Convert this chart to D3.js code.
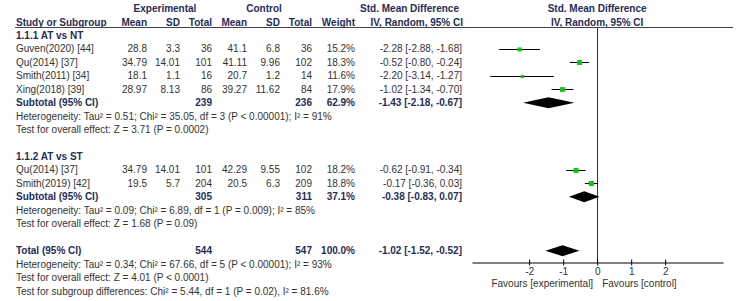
<!DOCTYPE html>
<html>
<head>
<meta charset="utf-8">
<script src="https://cdn.jsdelivr.net/npm/d3@7"></script>
<style>
  body { margin: 0; background: #fff; }
  svg text { font-family: Arial, "Liberation Sans", sans-serif; font-size: 10px; fill: #333; }
  svg text.b { font-weight: bold; fill: #1f2d58; }
</style>
</head>
<body>
<svg class="chart"></svg>
<script>
// study rows
var studies = ["Guven(2020) [44]", "Qu(2014) [37]", "Smith(2011) [34]", "Xing(2018) [39]", "Qu(2014) [37]", "Smith(2019) [42]"];
var studyGroup = [0, 0, 0, 0, 1, 1];
var expMean = ["28.8", "34.79", "18.1", "28.97", "34.79", "19.5"];
var expSD = ["3.3", "14.01", "1.1", "8.13", "14.01", "5.7"];
var expN = [36, 101, 16, 86, 101, 204];
var ctlMean = ["41.1", "41.11", "20.7", "39.27", "42.29", "20.5"];
var ctlSD = ["6.8", "9.96", "1.2", "11.62", "9.55", "6.3"];
var ctlN = [36, 102, 14, 84, 102, 209];
var weights = [15.2, 18.3, 11.6, 17.9, 18.2, 18.8];
var smd = [-2.28, -0.52, -2.20, -1.02, -0.62, -0.17];
var smdLo = [-2.88, -0.80, -3.14, -1.34, -0.91, -0.36];
var smdHi = [-1.68, -0.24, -1.27, -0.70, -0.34, 0.03];

// subgroups
var groupNames = ["1.1.1 AT vs NT", "1.1.2 AT vs ST"];
var groupExpN = [239, 305];
var groupCtlN = [236, 311];
var groupWeight = [62.9, 37.1];
var groupSmd = [-1.43, -0.38];
var groupLo = [-2.18, -0.83];
var groupHi = [-0.67, 0.07];
var groupHet = [
  "Heterogeneity: Tau\u00b2 = 0.51; Chi\u00b2 = 35.05, df = 3 (P < 0.00001); I\u00b2 = 91%",
  "Heterogeneity: Tau\u00b2 = 0.09; Chi\u00b2 = 6.89, df = 1 (P = 0.009); I\u00b2 = 85%"
];
var groupTest = [
  "Test for overall effect: Z = 3.71 (P = 0.0002)",
  "Test for overall effect: Z = 1.68 (P = 0.09)"
];

// overall
var totalExpN = 544, totalCtlN = 547, totalWeight = 100.0;
var totalSmd = -1.02, totalLo = -1.52, totalHi = -0.52;
var totalNotes = [
  "Heterogeneity: Tau\u00b2 = 0.34; Chi\u00b2 = 67.66, df = 5 (P < 0.00001); I\u00b2 = 93%",
  "Test for overall effect: Z = 4.01 (P < 0.0001)",
  "Test for subgroup differences: Chi\u00b2 = 5.44, df = 1 (P = 0.02), I\u00b2 = 81.6%"
];

var tickVals = [-2, -1, 0, 1, 2];
var favours = ["Favours [experimental]", "Favours [control]"];

var width = 738, height = 301;
var svg = d3.select(".chart").attr("width", width).attr("height", height);

var x = d3.scaleLinear().domain([-3.68, 3.7]).range([472, 723]);
var y = d3.scaleLinear().domain([0, 19]).range([35.5, 291]);

function f2(v) { return v.toFixed(2); }
function ci(m, lo, hi) { return f2(m) + " [" + f2(lo) + ", " + f2(hi) + "]"; }

// columns: right edges
var col = {name: 16, em: 147, esd: 180, en: 212, cm: 247, csd: 280, cn: 312, w: 355, ci: 462};

function txt(px, py, s, anchor, bold) {
  svg.append("text")
    .attr("class", bold ? "b" : null)
    .attr("x", px).attr("y", py).attr("dy", "0.35em")
    .attr("text-anchor", anchor || "start")
    .text(s);
}

// header
txt(165, 8, "Experimental", "middle", true);
txt(264, 8, "Control", "middle", true);
txt(459, 8, "Std. Mean Difference", "end", true);
txt(x(0), 8, "Std. Mean Difference", "middle", true);
txt(col.name, 22, "Study or Subgroup", "start", true);
[["Mean", col.em], ["SD", col.esd], ["Total", col.en], ["Mean", col.cm], ["SD", col.csd], ["Total", col.cn], ["Weight", col.w]]
  .forEach(function(h) { txt(h[1], 22, h[0], "end", true); });
txt(463, 22, "IV, Random, 95% CI", "end", true);
txt(x(0), 22, "IV, Random, 95% CI", "middle", true);

svg.append("line").attr("x1", 15).attr("x2", 733).attr("y1", 27.5).attr("y2", 27.5)
  .attr("stroke", "#444").attr("stroke-width", 1);

// zero line
svg.append("line").attr("x1", Math.round(x(0)) + 0.5).attr("x2", Math.round(x(0)) + 0.5)
  .attr("y1", 27.5).attr("y2", 262.5).attr("stroke", "#333").attr("stroke-width", 1);

function diamond(m, lo, hi, py) {
  var h = 5.5;
  svg.append("path")
    .attr("d", "M" + x(lo) + "," + py + "L" + x(m) + "," + (py - h) + "L" + x(hi) + "," + py + "L" + x(m) + "," + (py + h) + "Z")
    .attr("fill", "#000");
}

var row = 0;
groupNames.forEach(function(g, gi) {
  txt(col.name, y(row), g, "start", true);
  row++;
  studies.forEach(function(s, i) {
    if (studyGroup[i] !== gi) return;
    var py = y(row);
    txt(col.name, py, s);
    txt(col.em, py, expMean[i], "end");
    txt(col.esd, py, expSD[i], "end");
    txt(col.en, py, expN[i], "end");
    txt(col.cm, py, ctlMean[i], "end");
    txt(col.csd, py, ctlSD[i], "end");
    txt(col.cn, py, ctlN[i], "end");
    txt(col.w, py, weights[i].toFixed(1) + "%", "end");
    txt(col.ci, py, ci(smd[i], smdLo[i], smdHi[i]), "end");
    var ly = Math.round(py) + 0.5;
    svg.append("line").attr("x1", x(smdLo[i])).attr("x2", x(smdHi[i]))
      .attr("y1", ly).attr("y2", ly).attr("stroke", "#000").attr("stroke-width", 1);
    var sz = weights[i] * 0.27;
    svg.append("rect").attr("x", x(smd[i]) - sz / 2).attr("y", ly - sz / 2)
      .attr("width", sz).attr("height", sz).attr("fill", "#11c411");
    row++;
  });
  var py = y(row);
  txt(col.name, py, "Subtotal (95% CI)", "start", true);
  txt(col.en, py, groupExpN[gi], "end", true);
  txt(col.cn, py, groupCtlN[gi], "end", true);
  txt(col.w, py, groupWeight[gi].toFixed(1) + "%", "end", true);
  txt(col.ci, py, ci(groupSmd[gi], groupLo[gi], groupHi[gi]), "end", true);
  diamond(groupSmd[gi], groupLo[gi], groupHi[gi], py);
  row++;
  txt(col.name, y(row), groupHet[gi]); row++;
  txt(col.name, y(row), groupTest[gi]); row++;
  row++;
});

var ty = y(row);
txt(col.name, ty, "Total (95% CI)", "start", true);
txt(col.en, ty, totalExpN, "end", true);
txt(col.cn, ty, totalCtlN, "end", true);
txt(col.w, ty, totalWeight.toFixed(1) + "%", "end", true);
txt(col.ci, ty, ci(totalSmd, totalLo, totalHi), "end", true);
diamond(totalSmd, totalLo, totalHi, ty);
row++;
totalNotes.forEach(function(n) { txt(col.name, y(row), n); row++; });

// axis
var axis = d3.axisBottom(x).tickValues(tickVals).tickSize(3).tickSizeOuter(0).tickPadding(2)
  .tickFormat(d3.format("d"));
var ax = svg.append("g").attr("transform", "translate(0,262.5)").call(axis);
ax.select(".domain").attr("stroke", "#000");
ax.selectAll(".tick line").attr("y1", -3).attr("stroke", "#000");
ax.selectAll(".tick text").attr("font-size", null).attr("font-family", null).attr("fill", "#333")
  .text(function(d) { return d < 0 ? "-" + Math.abs(d) : d; });

txt(x(0) - 4, 283, favours[0], "end");
txt(x(0) + 5, 283, favours[1], "start");
</script>
</body>
</html>
